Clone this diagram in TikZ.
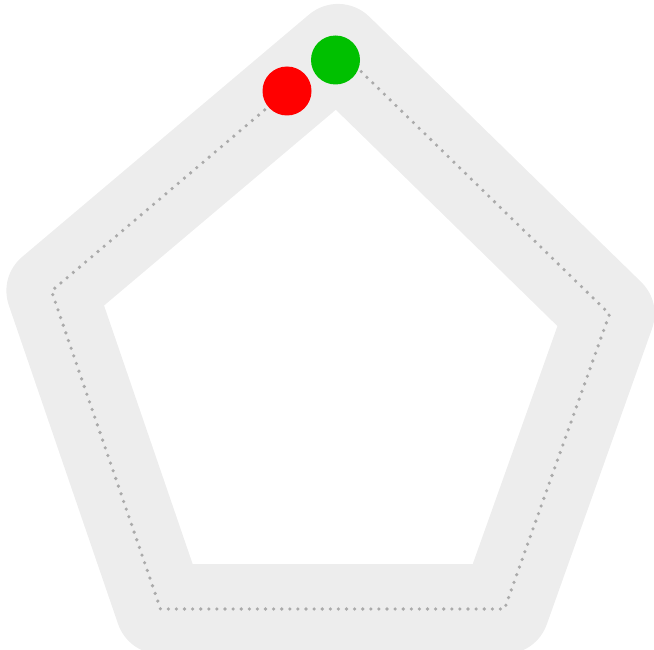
\documentclass[tikz,border=0pt]{standalone}
\begin{document}
\begin{tikzpicture}[x=1pt,y=-1pt,
  band/.style={draw={rgb,255:red,237;green,237;blue,237}, line width=90pt, line join=round, line cap=round},
  trail/.style={draw={rgb,255:red,170;green,170;blue,170}, line width=3.6pt, line cap=round, dash pattern=on 0pt off 8.1pt},
  dotmark/.style={circle, inner sep=0pt, minimum size=49pt, draw=none}
]
\useasboundingbox (0,0) rectangle (654,650);
\coordinate (T) at (338,49);
\coordinate (R) at (609.5,314);
\coordinate (BR) at (504.5,609);
\coordinate (BL) at (160.5,609);
\coordinate (L) at (51.5,291);
\coordinate (E) at (287,91);
\draw[band] (T) -- (R) -- (BR) -- (BL) -- (L) -- cycle;
\draw[trail] (T) -- (R) -- (BR) -- (BL) -- (L) -- (E);
\node[dotmark, fill={rgb,255:red,255;green,0;blue,0}] (red) at (E) {};
\node[dotmark, fill={rgb,255:red,0;green,192;blue,0}] (green) at (335.5,60) {};
\end{tikzpicture}
\end{document}
